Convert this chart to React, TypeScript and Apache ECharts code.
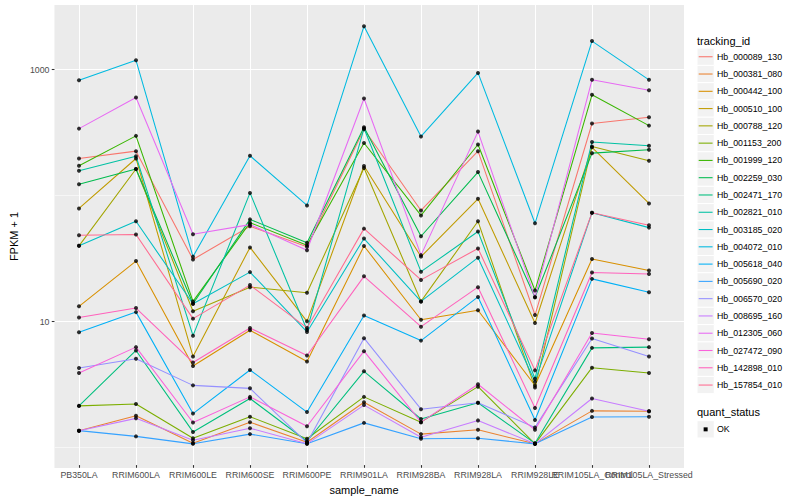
import React, { useEffect, useRef } from 'react';
import * as echarts from 'echarts';

const categories = ['PB350LA', 'RRIM600LA', 'RRIM600LE', 'RRIM600SE', 'RRIM600PE', 'RRIM901LA', 'RRIM928BA', 'RRIM928LA', 'RRIM928LE', 'RRIM105LA_Control', 'RRIM105LA_Stressed'];

const trackingIds = ['Hb_000089_130', 'Hb_000381_080', 'Hb_000442_100', 'Hb_000510_100', 'Hb_000788_120', 'Hb_001153_200', 'Hb_001999_120', 'Hb_002259_030', 'Hb_002471_170', 'Hb_002821_010', 'Hb_003185_020', 'Hb_004072_010', 'Hb_005618_040', 'Hb_005690_020', 'Hb_006570_020', 'Hb_008695_160', 'Hb_012305_060', 'Hb_027472_090', 'Hb_142898_010', 'Hb_157854_010'];

const hueColors = ['#F8766D', '#EA8331', '#D89000', '#C09B00', '#A3A500', '#7CAE00', '#39B600', '#00BB4E', '#00BF7D', '#00C1A3', '#00BFC4', '#00BAE0', '#00B0F6', '#35A2FF', '#9590FF', '#C77CFF', '#E76BF3', '#FA62DB', '#FF62BC', '#FF6C91'];

// FPKM + 1 per sample (same order as categories)
const Hb_000089_130 = [194, 222, 30.3, 55.7, 38.2, 332, 74.6, 222, 10.9, 369, 414];
const Hb_000381_080 = [1.30, 1.71, 1.03, 1.52, 1.05, 2.19, 1.22, 1.32, 1.02, 1.87, 1.86];
const Hb_000442_100 = [12.8, 29.4, 4.27, 8.24, 4.64, 38.8, 10.0, 11.9, 2.98, 30.5, 24.7];
const Hb_000510_100 = [77.4, 194, 5.09, 37.8, 9.71, 169, 31.9, 92.4, 9.41, 238, 84.8];
const Hb_000788_120 = [38.9, 160, 11.7, 18.2, 16.4, 163, 14.0, 61.1, 2.87, 242, 186];
const Hb_001153_200 = [2.05, 2.12, 1.13, 1.68, 1.12, 2.42, 1.52, 2.92, 1.02, 4.14, 3.75];
const Hb_001999_120 = [170, 294, 14.0, 59.6, 39.4, 258, 68.1, 251, 17.1, 626, 355];
const Hb_002259_030 = [121, 160, 13.4, 63.3, 41.2, 345, 46.4, 151, 15.1, 214, 228];
const Hb_002471_170 = [2.05, 5.68, 1.27, 2.35, 1.07, 3.87, 1.61, 2.17, 1.03, 5.96, 6.04];
const Hb_002821_010 = [155, 202, 7.46, 103, 8.28, 338, 24.2, 50.6, 3.38, 263, 245];
const Hb_003185_020 = [38.9, 61.1, 13.4, 24.0, 7.99, 44.5, 14.0, 31.3, 3.20, 71.6, 54.4];
const Hb_004072_010 = [817, 1179, 31.9, 204, 81.8, 2210, 291, 936, 58.9, 1680, 824];
const Hb_005618_040 = [7.94, 11.5, 1.78, 3.97, 1.83, 10.8, 6.81, 15.2, 1.58, 21.2, 16.6];
const Hb_005690_020 = [1.30, 1.17, 1.02, 1.22, 1.02, 1.50, 1.12, 1.13, 1.02, 1.67, 1.68];
const Hb_006570_020 = [4.12, 4.88, 2.99, 2.83, 1.04, 7.12, 1.93, 2.17, 1.38, 7.07, 5.09];
const Hb_008695_160 = [1.30, 1.63, 1.09, 1.36, 1.02, 2.08, 1.15, 1.57, 1.02, 2.35, 1.86];
const Hb_012305_060 = [336, 596, 48.1, 57.5, 35.9, 585, 32.8, 318, 15.1, 824, 681];
const Hb_027472_090 = [3.75, 6.04, 1.51, 2.42, 1.41, 5.61, 1.52, 3.05, 1.32, 7.84, 6.99];
const Hb_142898_010 = [10.4, 12.4, 4.56, 8.6, 5.18, 22.2, 8.80, 18.2, 1.97, 23.8, 23.2];
const Hb_157854_010 = [47.3, 47.9, 10.2, 18.9, 8.6, 53.4, 20.8, 37.1, 3.94, 71.6, 56.8];

const seriesValues = [Hb_000089_130, Hb_000381_080, Hb_000442_100, Hb_000510_100, Hb_000788_120, Hb_001153_200, Hb_001999_120, Hb_002259_030, Hb_002471_170, Hb_002821_010, Hb_003185_020, Hb_004072_010, Hb_005618_040, Hb_005690_020, Hb_006570_020, Hb_008695_160, Hb_012305_060, Hb_027472_090, Hb_142898_010, Hb_157854_010];

const statusLabels = ['OK'];
const yMajorValues = [10, 1000];
const yMajorLabels = ['10', '1000'];
const yMinorValues = [1, 100];

export default function App() {
  const ref = useRef<HTMLDivElement>(null);

  useEffect(() => {
    document.body.style.margin = '0';
    const chart = echarts.init(ref.current as HTMLDivElement, null, { renderer: 'svg' });
    const font = '"Liberation Sans", Arial, Helvetica, sans-serif';
    const yMin = 0.69;
    const yMax = 3263;
    const panel = { left: 45, top: 5, right: 684, bottom: 468 };
    const catLeft = 79;
    const catRight = 649;

    const lineSeries = trackingIds.map((id, k) => ({
      name: id,
      type: 'line',
      xAxisIndex: 1,
      yAxisIndex: 2,
      data: seriesValues[k],
      showSymbol: false,
      symbol: 'none',
      lineStyle: { color: hueColors[k], width: 1.07 },
      itemStyle: { color: hueColors[k] },
      silent: true,
      z: 2,
    }));

    const points: [number, number][] = [];
    seriesValues.forEach((vals) => vals.forEach((v, i) => points.push([i, v])));

    const scatter = {
      name: statusLabels[0],
      type: 'scatter',
      xAxisIndex: 1,
      yAxisIndex: 2,
      data: points,
      symbol: 'circle',
      symbolSize: 4,
      itemStyle: { color: '#000000' },
      silent: true,
      z: 3,
    };

    const legendTop = 48.1;
    const step = 17.28;
    const keyX = 697;
    const graphics: any[] = [
      {
        type: 'text', x: keyX, y: 40.5,
        style: { text: 'tracking_id', fontSize: 11, fill: '#000000', fontFamily: font, verticalAlign: 'middle' },
      },
    ];
    trackingIds.forEach((id, k) => {
      const y = legendTop + k * step;
      graphics.push(
        { type: 'rect', shape: { x: keyX, y, width: step, height: step }, style: { fill: '#F2F2F2', stroke: '#FFFFFF', lineWidth: 1 } },
        { type: 'line', shape: { x1: keyX + 1.7, y1: y + step / 2, x2: keyX + step - 1.7, y2: y + step / 2 }, style: { stroke: hueColors[k], lineWidth: 1.07 } },
        { type: 'text', x: 717, y: y + step / 2, style: { text: id, fontSize: 8.8, fill: '#000000', fontFamily: font, verticalAlign: 'middle' } },
      );
    });
    const qTitleY = 412.3;
    const qKeyY = 420.7;
    graphics.push(
      { type: 'text', x: keyX, y: qTitleY, style: { text: 'quant_status', fontSize: 11, fill: '#000000', fontFamily: font, verticalAlign: 'middle' } },
      { type: 'rect', shape: { x: keyX, y: qKeyY, width: step, height: step }, style: { fill: '#F2F2F2', stroke: '#FFFFFF', lineWidth: 1 } },
      { type: 'rect', shape: { x: keyX + step / 2 - 2, y: qKeyY + step / 2 - 2, width: 4, height: 4 }, style: { fill: '#000000' } },
      { type: 'text', x: 717, y: qKeyY + step / 2, style: { text: statusLabels[0], fontSize: 8.8, fill: '#000000', fontFamily: font, verticalAlign: 'middle' } },
    );

    const option: any = {
      animation: false,
      backgroundColor: '#FFFFFF',
      textStyle: { fontFamily: font },
      grid: [
        {
          left: panel.left, top: panel.top, width: panel.right - panel.left, height: panel.bottom - panel.top,
          show: true, backgroundColor: '#EBEBEB', borderWidth: 0,
        },
        {
          left: catLeft, top: panel.top, width: catRight - catLeft, height: panel.bottom - panel.top,
          show: false,
        },
      ],
      xAxis: [
        { gridIndex: 0, type: 'value', show: false, min: 0, max: 1 },
        {
          gridIndex: 1, type: 'category', data: categories, boundaryGap: false, position: 'bottom',
          axisLine: { show: false },
          axisTick: { show: true, length: 2.7, interval: 0, lineStyle: { color: '#333333', width: 1.07 } },
          axisLabel: { interval: 0, fontSize: 8.8, color: '#4D4D4D', margin: 5, fontFamily: font },
          splitLine: { show: true, interval: 0, lineStyle: { color: '#FFFFFF', width: 1.07 } },
          name: 'sample_name', nameLocation: 'middle', nameGap: 14,
          nameTextStyle: { fontSize: 11, color: '#000000', fontFamily: font },
        },
      ],
      yAxis: [
        {
          gridIndex: 0, type: 'log', logBase: 10, min: yMin, max: yMax, position: 'left',
          axisLine: { show: false },
          axisTick: { show: true, length: 2.7, customValues: yMajorValues, lineStyle: { color: '#333333', width: 1.07 } },
          axisLabel: {
            show: true, customValues: yMajorValues, fontSize: 8.8, color: '#4D4D4D', margin: 5, fontFamily: font,
            formatter: (v: number) => {
              const idx = yMajorValues.findIndex((m) => Math.abs(m - v) / m < 1e-6);
              return idx >= 0 ? yMajorLabels[idx] : '';
            },
          },
          splitLine: { show: true, lineStyle: { color: '#FFFFFF', width: 1.07 } },
          name: 'FPKM + 1', nameLocation: 'middle', nameGap: 27, nameRotate: 90,
          nameTextStyle: { fontSize: 11, color: '#000000', fontFamily: font },
        },
        {
          gridIndex: 0, type: 'log', logBase: 10, min: yMin, max: yMax, position: 'left',
          axisLine: { show: false },
          axisTick: { show: false, customValues: yMinorValues },
          axisLabel: { show: false, customValues: yMinorValues },
          splitLine: { show: true, lineStyle: { color: '#F6F6F6', width: 1 } },
        },
        {
          gridIndex: 1, type: 'log', logBase: 10, min: yMin, max: yMax, show: false,
        },
      ],
      series: [...lineSeries, scatter],
      graphic: graphics,
    };

    chart.setOption(option);
    return () => {
      chart.dispose();
    };
  }, []);

  return <div ref={ref} style={{ width: 800, height: 500 }} />;
}
